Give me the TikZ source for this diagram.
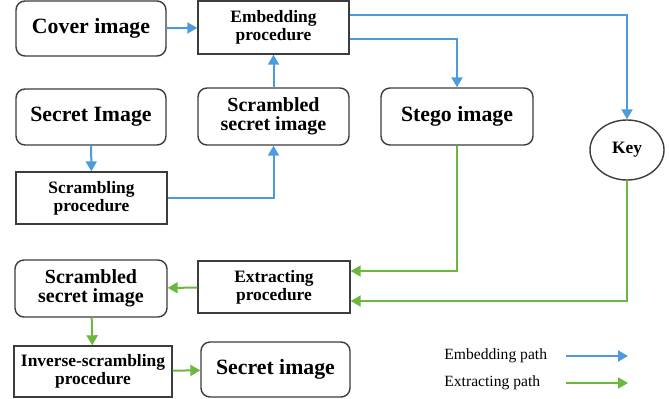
\documentclass[tikz,border=0pt]{standalone}
\usepackage{fontspec}
\setmainfont{Liberation Serif}
\usetikzlibrary{arrows.meta,shapes.geometric,calc}

\definecolor{embblue}{RGB}{78,154,222}
\definecolor{extgreen}{RGB}{108,184,62}
\definecolor{boxgray}{RGB}{60,60,60}

\tikzset{
	rbox/.style={draw=boxgray, line width=0.7pt, rounded corners=4.5pt, inner sep=0pt, align=center},
	pbox/.style={draw=boxgray, line width=0.7pt, inner sep=0pt, align=center},
	bigtxt/.style={font=\fontsize{10.9}{12}\selectfont\bfseries},
	midtxt/.style={font=\fontsize{10}{9.6}\selectfont\bfseries},
	smalltxt/.style={font=\fontsize{8.7}{8.9}\selectfont\bfseries},
	emb/.style={draw=embblue, line width=1pt, -{Triangle[length=5pt,width=5.5pt]}},
	ext/.style={draw=extgreen, line width=1pt, -{Triangle[length=5pt,width=5.5pt]}}
}

\begin{document}
\begin{tikzpicture}[x=0.5pt, y=-0.5pt]
	\fill[white] (0,0) rectangle (669,398); % Hintergrund
	\useasboundingbox (0,0) rectangle (669,398);

	% Einbetten
	\node[rbox, bigtxt, minimum width=75pt, minimum height=27.5pt] (cover) at (91,28.5) {Cover image};
	\node[pbox, smalltxt, minimum width=75.5pt, minimum height=26.5pt] (embed) at (273.5,27.5) {Embedding\\procedure};
	\node[rbox, bigtxt, minimum width=75pt, minimum height=28pt] (secret) at (91,117) {Secret Image};
	\node[rbox, midtxt, minimum width=75.5pt, minimum height=28.5pt] (scrsec) at (273.5,116.5) {Scrambled\\secret image};
	\node[pbox, smalltxt, minimum width=75.5pt, minimum height=26pt] (scrproc) at (91.5,198) {Scrambling\\procedure};
	\node[rbox, bigtxt, minimum width=76pt, minimum height=28.5pt] (stego) at (457,116.5) {Stego image};
	\node[ellipse, draw=boxgray, line width=0.7pt, smalltxt, inner sep=0pt, minimum width=37pt, minimum height=30pt] (key) at (627,150) {Key};

	% Extrahieren
	\node[pbox, smalltxt, minimum width=76pt, minimum height=26pt] (extract) at (274,287) {Extracting\\procedure};
	\node[rbox, midtxt, minimum width=76pt, minimum height=28.5pt] (scrsecb) at (91,288.5) {Scrambled\\secret image};
	\node[pbox, smalltxt, minimum width=79pt, minimum height=25.5pt] (inverse) at (93,371.5) {Inverse-scrambling\\procedure};
	\node[rbox, bigtxt, minimum width=74.5pt, minimum height=27.5pt] (secretb) at (275.5,369.5) {Secret image};

	% Legende
	\node[anchor=west, inner sep=0pt, font=\fontsize{7.8}{9}\selectfont] (legemb) at (444,356) {Embedding path};
	\node[anchor=west, inner sep=0pt, font=\fontsize{7.8}{9}\selectfont] (legext) at (444,383) {Extracting path};
	\coordinate (legembend) at (628,356);
	\coordinate (legextend) at (628,383);

	% Pfeile Einbetten
	\draw[emb] (cover) -- (embed);
	\draw[emb] ([yshift=6.25pt]embed.east) -| (key);
	\draw[emb] ([yshift=-5.75pt]embed.east) -| (stego);
	\draw[emb] (secret) -- (scrproc);
	\draw[emb] (scrproc.east) -| (scrsec);
	\draw[emb] (scrsec) -- (embed);

	% Pfeile Extrahieren
	\draw[ext] (stego.south) |- ([yshift=8pt]extract.east);
	\draw[ext] (key.south) |- ([yshift=-7pt]extract.east);
	\draw[ext] (extract) -- (scrsecb);
	\draw[ext] (scrsecb) -- (inverse);
	\draw[ext] (inverse) -- (secretb);

	\draw[emb] ([xshift=61pt]legemb.west) -- (legembend);
	\draw[ext] ([xshift=61pt]legext.west) -- (legextend);
\end{tikzpicture}
\end{document}
